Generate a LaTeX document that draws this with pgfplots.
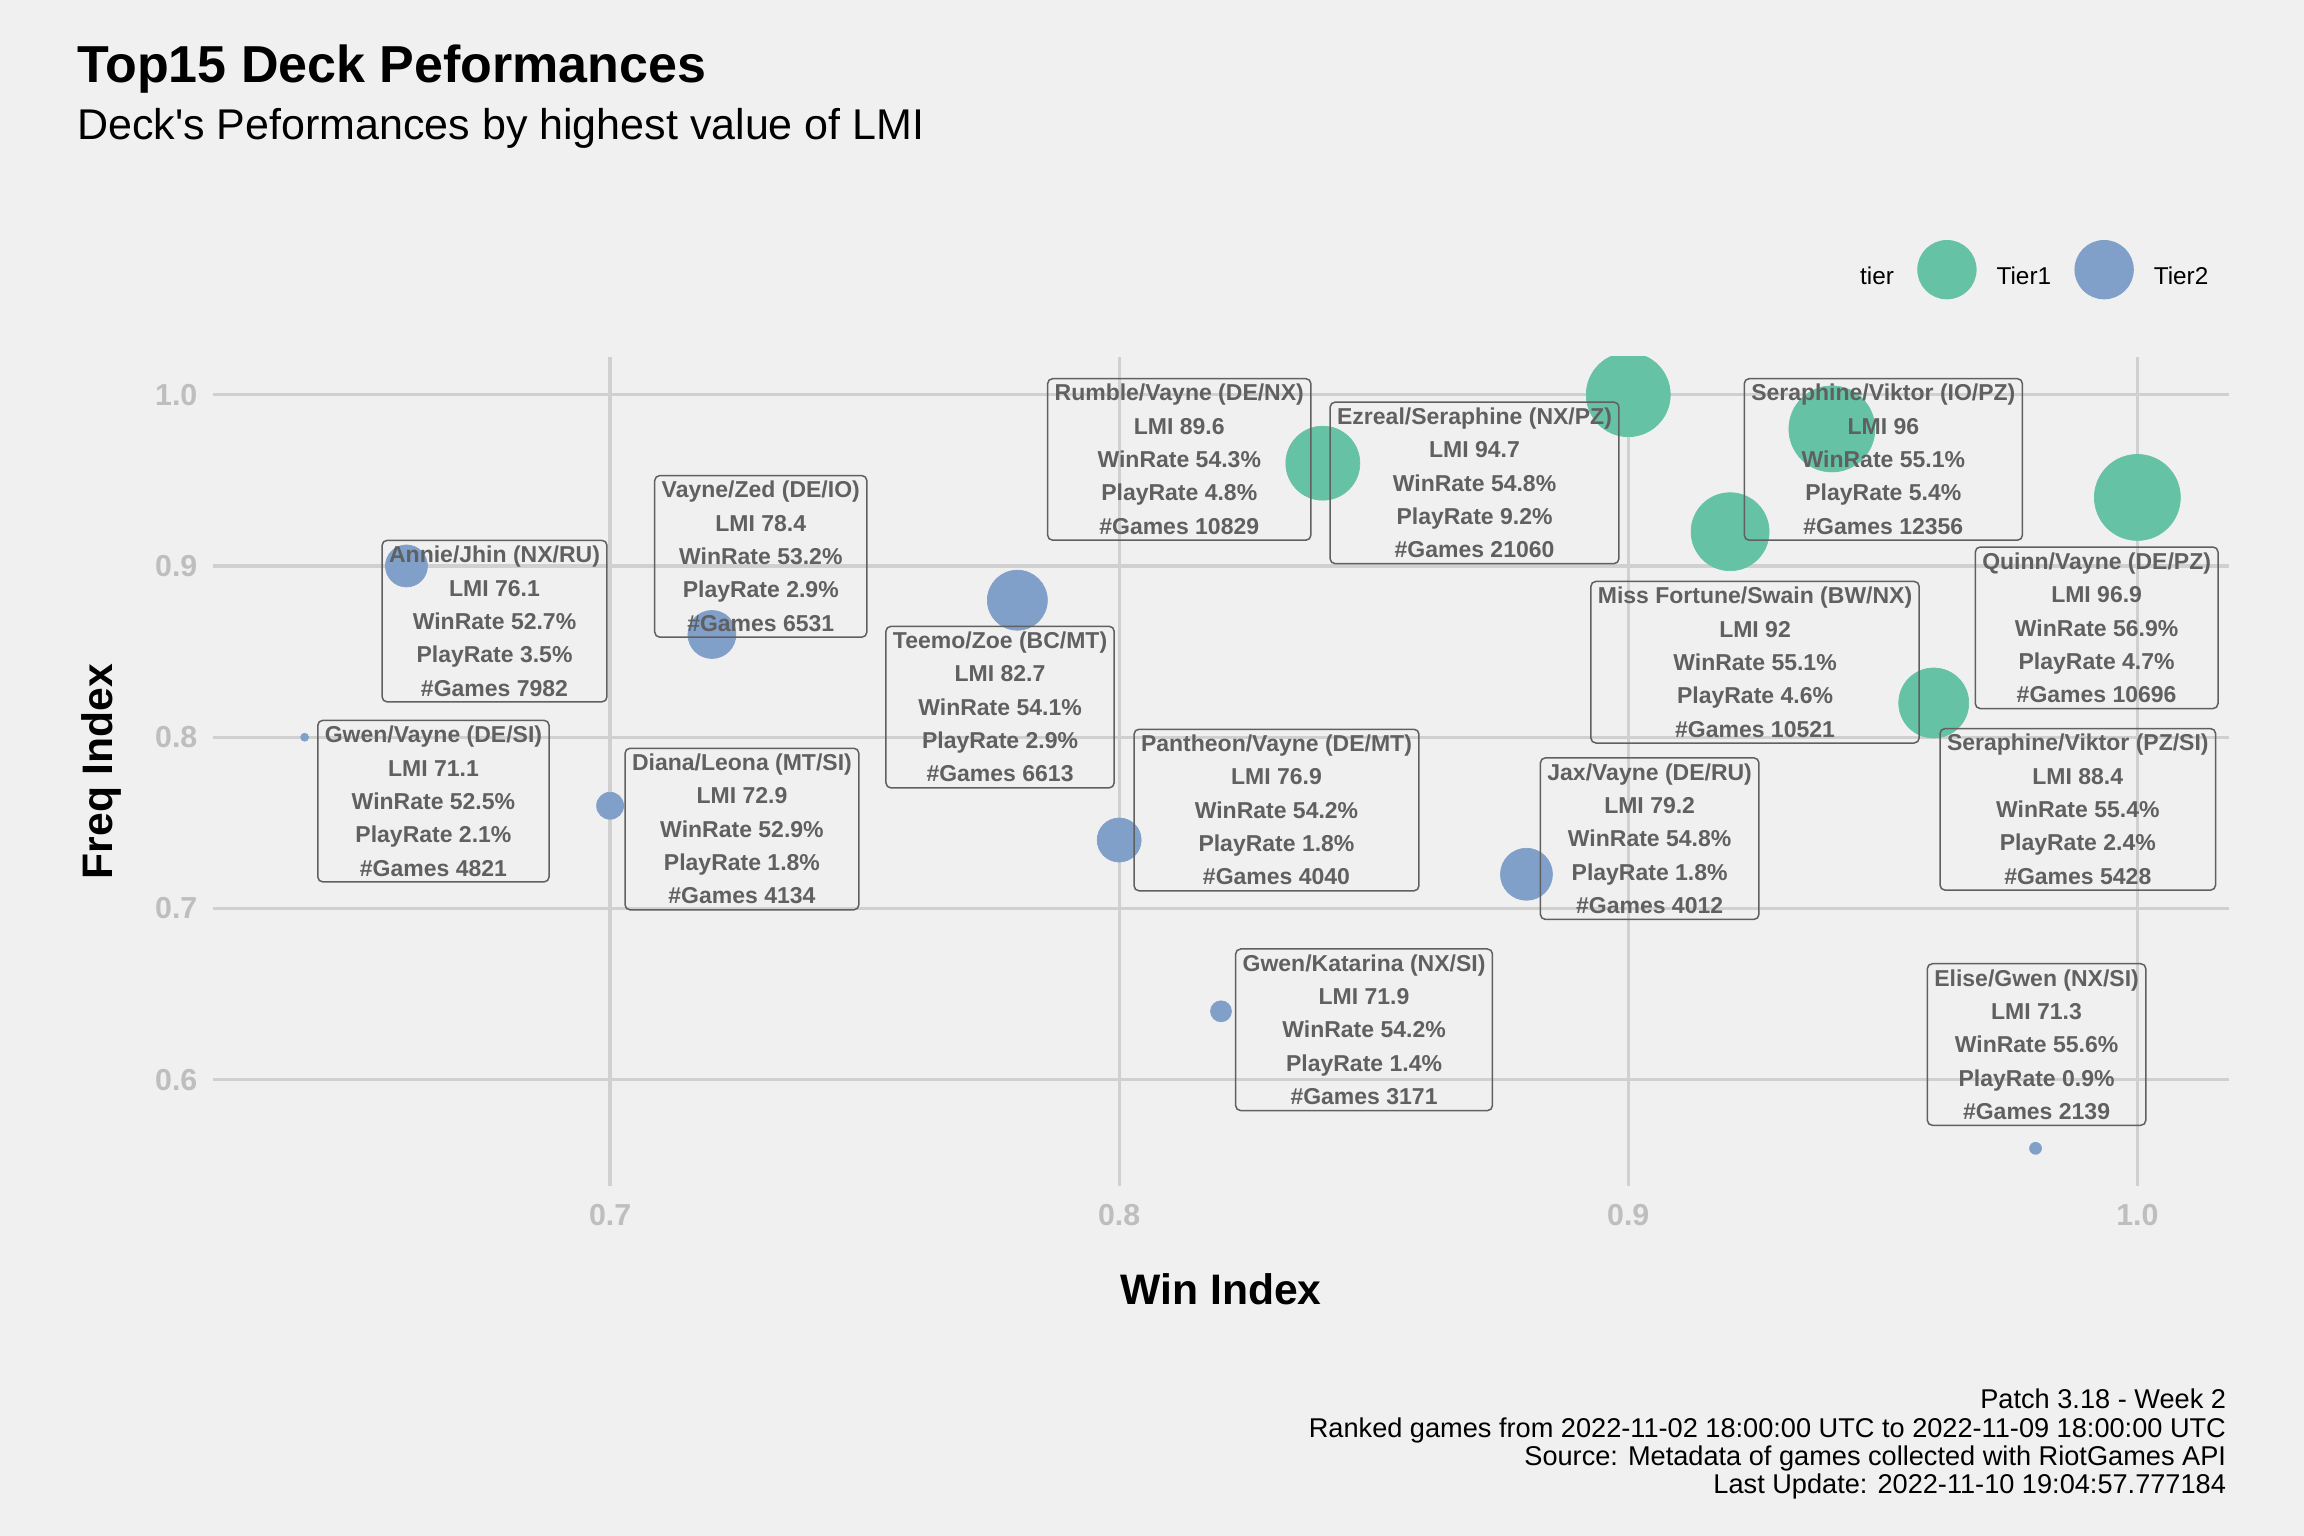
\documentclass[border=0pt]{standalone}
\usepackage{pgfplots}
\pgfplotsset{compat=1.18}
\usepackage{pgfplotstable}
\usepackage{fontspec}
\setmainfont{Liberation Sans}
\newfontfamily\plainsans{Liberation Sans}

\definecolor{bg}{HTML}{F0F0F0}
\definecolor{gridc}{HTML}{D0D0D0}
\definecolor{tickc}{HTML}{BEBEBE}
\definecolor{labc}{HTML}{606060}
\definecolor{tierone}{HTML}{66C2A5}
\definecolor{tiertwo}{HTML}{809FC9}

% x, y = win / freq index; size = bubble radius (pt); lx, ly = label box centre
\pgfplotstableread[col sep=comma]{
x,y,size,lx,ly,name,lmi,wr,pr,games
0.84,0.96,11.1,0.8118,0.9622,Rumble/Vayne (DE/NX),89.6,54.3,4.8,10829
0.90,1.00,12.6,0.8698,0.9485,Ezreal/Seraphine (NX/PZ),94.7,54.8,9.2,21060
0.92,0.92,11.7,0.9249,0.8438,Miss Fortune/Swain (BW/NX),92,55.1,4.6,10521
0.94,0.98,12.9,0.9501,0.9622,Seraphine/Viktor (IO/PZ),96,55.1,5.4,12356
0.96,0.82,10.5,0.9883,0.7579,Seraphine/Viktor (PZ/SI),88.4,55.4,2.4,5428
1.00,0.94,12.9,0.9920,0.8639,Quinn/Vayne (DE/PZ),96.9,56.9,4.7,10696
}\decksA

\pgfplotstableread[col sep=comma]{
x,y,size,lx,ly,name,lmi,wr,pr,games
0.64,0.80,1.2,0.6653,0.7627,Gwen/Vayne (DE/SI),71.1,52.5,2.1,4821
0.66,0.90,6.3,0.6773,0.8678,Annie/Jhin (NX/RU),76.1,52.7,3.5,7982
0.70,0.76,4.05,0.7259,0.7464,Diana/Leona (MT/SI),72.9,52.9,1.8,4134
0.72,0.86,7.2,0.7296,0.9056,Vayne/Zed (DE/IO),78.4,53.2,2.9,6531
0.78,0.88,9.0,0.7766,0.8176,Teemo/Zoe (BC/MT),82.7,54.1,2.9,6613
0.80,0.74,6.6,0.8309,0.7575,Pantheon/Vayne (DE/MT),76.9,54.2,1.8,4040
0.82,0.64,3.15,0.8481,0.6292,Gwen/Katarina (NX/SI),71.9,54.2,1.4,3171
0.88,0.72,7.8,0.9042,0.7408,Jax/Vayne (DE/RU),79.2,54.8,1.8,4012
0.98,0.56,1.8,0.9802,0.6206,Elise/Gwen (NX/SI),71.3,55.6,0.9,2139
}\decksB

\newcommand{\pn}[1]{\pgfmathprintnumber[fixed,fixed zerofill=false,precision=1,1000 sep={},assume math mode=true]{#1}}

\pgfplotsset{
  bubbles/.style={scatter, only marks, mark=*,
    scatter/use mapped color={draw=#1, fill=#1},
    visualization depends on={\thisrow{size}\as\msize},
    scatter/@pre marker code/.append style={/tikz/mark size=\msize},
    mark options={line width=0.2pt},
    legend image code/.code={\fill[#1] (8.7pt,2.6pt) circle (8.7pt);}},
  decklabel/.style={only marks, mark=none, point meta=explicit symbolic,
    visualization depends on={\thisrow{lmi}\as\dlmi},
    visualization depends on={\thisrow{wr}\as\dwr},
    visualization depends on={\thisrow{pr}\as\dpr},
    visualization depends on={\thisrow{games}\as\dgames},
    nodes near coords={\pgfplotspointmeta\\LMI \pn{\dlmi}\\WinRate \pn{\dwr}\%\\PlayRate \pn{\dpr}\%\\\#Games \pn{\dgames}},
    every node near coord/.append style={anchor=center, align=center,
      font=\fontsize{6.9}{10}\selectfont\bfseries, text=labc, draw=labc,
      line width=0.45pt, rounded corners=1.5pt, inner xsep=2.1pt, inner ysep=1.7pt}},
}

\begin{document}
\begin{tikzpicture}
\path[use as bounding box, fill=bg] (0,0) rectangle (691.2pt,460.8pt);

\node[anchor=base west, inner sep=0pt, font=\fontsize{15.6}{18}\selectfont\bfseries]
  at (23pt,435.9pt) {Top15 Deck Peformances};
\node[anchor=base west, inner sep=0pt, font=\fontsize{12.9}{15}\selectfont\plainsans]
  at (23pt,418.8pt) {Deck's Peformances by highest value of LMI};

\begin{axis}[
  at={(63.9pt,105pt)}, anchor=south west,
  scale only axis, width=604.8pt, height=248.7pt,
  xmin=0.622, xmax=1.018, ymin=0.538, ymax=1.022,
  clip marker paths=true,
  xtick={0.7,0.8,0.9,1.0}, ytick={0.6,0.7,0.8,0.9,1.0},
  scaled ticks=false,
  xticklabel={\pgfmathprintnumber[fixed,fixed zerofill,precision=1,assume math mode=true]{\tick}},
  yticklabel={\pgfmathprintnumber[fixed,fixed zerofill,precision=1,assume math mode=true]{\tick}},
  axis line style={draw=none}, major tick length=0pt, tick style={draw=none},
  grid=major, major grid style={gridc, line width=1pt},
  ticklabel style={font=\fontsize{9.1}{11}\selectfont\bfseries, text=tickc, inner sep=0pt},
  xticklabel style={anchor=north, yshift=-5.4pt},
  yticklabel style={anchor=east, xshift=-4.5pt},
  xlabel={Win Index}, ylabel={Freq Index},
  label style={font=\fontsize{12.8}{15}\selectfont\bfseries},
  xlabel style={at={(axis description cs:0.5,-0.1435)}, anchor=base},
  ylabel style={at={(axis description cs:-0.0496,0.5)}, anchor=base},
  legend columns=3, legend cell align=left,
  legend style={draw=none, fill=none, at={(1,1)}, anchor=east,
    xshift=-6pt, yshift=26.2pt, inner sep=0pt, nodes={inner sep=0pt},
    font=\fontsize{7.3}{9}\selectfont,
    /tikz/every odd column/.append style={column sep=6pt},
    /tikz/every even column/.append style={column sep=7pt}},
]
\addlegendimage{empty legend}
\addlegendentry{tier}
\addplot[bubbles=tierone] table[x=x,y=y]{\decksA};
\addlegendentry{Tier1}
\addplot[bubbles=tiertwo] table[x=x,y=y]{\decksB};
\addlegendentry{Tier2}
\addplot[decklabel, forget plot] table[x=lx,y=ly,meta=name]{\decksA};
\addplot[decklabel, forget plot] table[x=lx,y=ly,meta=name]{\decksB};
\end{axis}

\node[anchor=base east, inner sep=0pt, font=\fontsize{8.15}{9}\selectfont] at (668pt,38.1pt) {Patch 3.18 - Week 2};
\node[anchor=base east, inner sep=0pt, font=\fontsize{8.15}{9}\selectfont] at (668pt,29.6pt) {Ranked games from 2022-11-02 18:00:00 UTC to 2022-11-09 18:00:00 UTC};
\node[anchor=base east, inner sep=0pt, font=\fontsize{8.15}{9}\selectfont] at (668pt,21.1pt) {Source: Metadata of games collected with RiotGames API};
\node[anchor=base east, inner sep=0pt, font=\fontsize{8.15}{9}\selectfont] at (668pt,12.6pt) {Last Update: 2022-11-10 19:04:57.777184};
\end{tikzpicture}
\end{document}
